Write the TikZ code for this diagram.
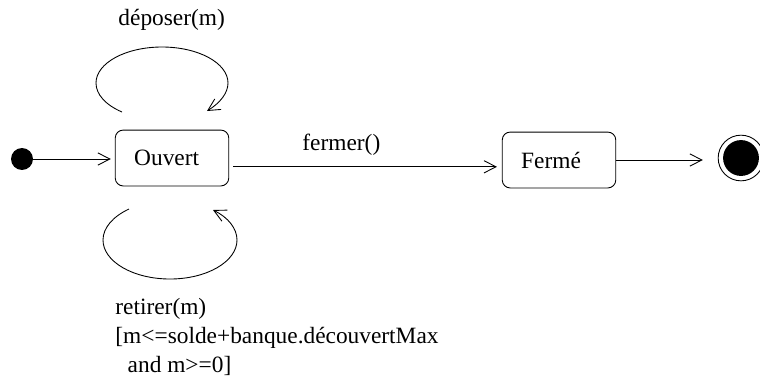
\documentclass[tikz,border=0pt]{standalone}
\usepackage{fontspec}
\setmainfont{Liberation Serif}
\usetikzlibrary{arrows.meta}

\tikzset{
  etat/.style={draw, rounded corners=4.5pt, text width=43pt, align=left,
    inner xsep=10.8pt, minimum height=31.8pt, font=\fontsize{13.3}{16.4}\selectfont},
  trans/.style={-{Straight Barb[length=6.8pt,width=7pt]}},
  lbl/.style={font=\fontsize{13.3}{16.4}\selectfont, inner sep=0pt}
}

\begin{document}
\begin{tikzpicture}[x=0.02cm, y=-0.02cm, line width=0.5pt]
  \useasboundingbox (0,0) rectangle (760,380);
  \node[circle, fill, inner sep=0pt, minimum size=12.5pt] (init) at (22,159) {};
  \node[etat] (ouvert) at (172,158) {Ouvert};
  \node[etat] (ferme) at (559,160) {Fermé};
  \node[circle, draw, inner sep=0pt, minimum size=26pt] (final) at (741,158) {};
  \node[circle, fill, inner sep=0pt, minimum size=20.4pt] (finalin) at (final.center) {};

  \draw[trans, shorten >=2.3pt] (init) -- (init -| ouvert.west);
  \draw[trans, shorten <=2.3pt, shorten >=2.8pt] ([yshift=-5pt]ouvert.east) -- ([yshift=-5pt]ouvert.east -| ferme.west);
  \draw[trans, shorten >=8.5pt] (ferme.east) -- (ferme.east -| final.west);

  \coordinate (depA) at (122,112);
  \coordinate (depB) at (207,111);
  \draw[trans] (depA) .. controls (105.5,104.9) and (96,94.3) .. (96,83)
    .. controls (96,63.1) and (125.5,47) .. (162,47)
    .. controls (198.5,47) and (228,63.1) .. (228,83)
    .. controls (228,93.2) and (219.9,103) .. (depB);

  \coordinate (retA) at (129,209);
  \coordinate (retB) at (213,210);
  \draw[trans] (retA) .. controls (112.7,216.6) and (103,228) .. (103,240)
    .. controls (103,261.5) and (133,279) .. (170,279)
    .. controls (207,279) and (237,261.5) .. (237,240)
    .. controls (237,228.5) and (228.2,217.4) .. (retB);

  \node[lbl, anchor=base west] (deposer) at (118,25) {déposer(m)};
  \node[lbl, anchor=base west] (fermer) at (302,150) {fermer()};
  \node[lbl, anchor=base west, align=left] (retirer) at (115,372)
    {retirer(m)\\\relax[m<=solde+banque.découvertMax\\\hspace*{7pt}and m>=0]};
\end{tikzpicture}
\end{document}
